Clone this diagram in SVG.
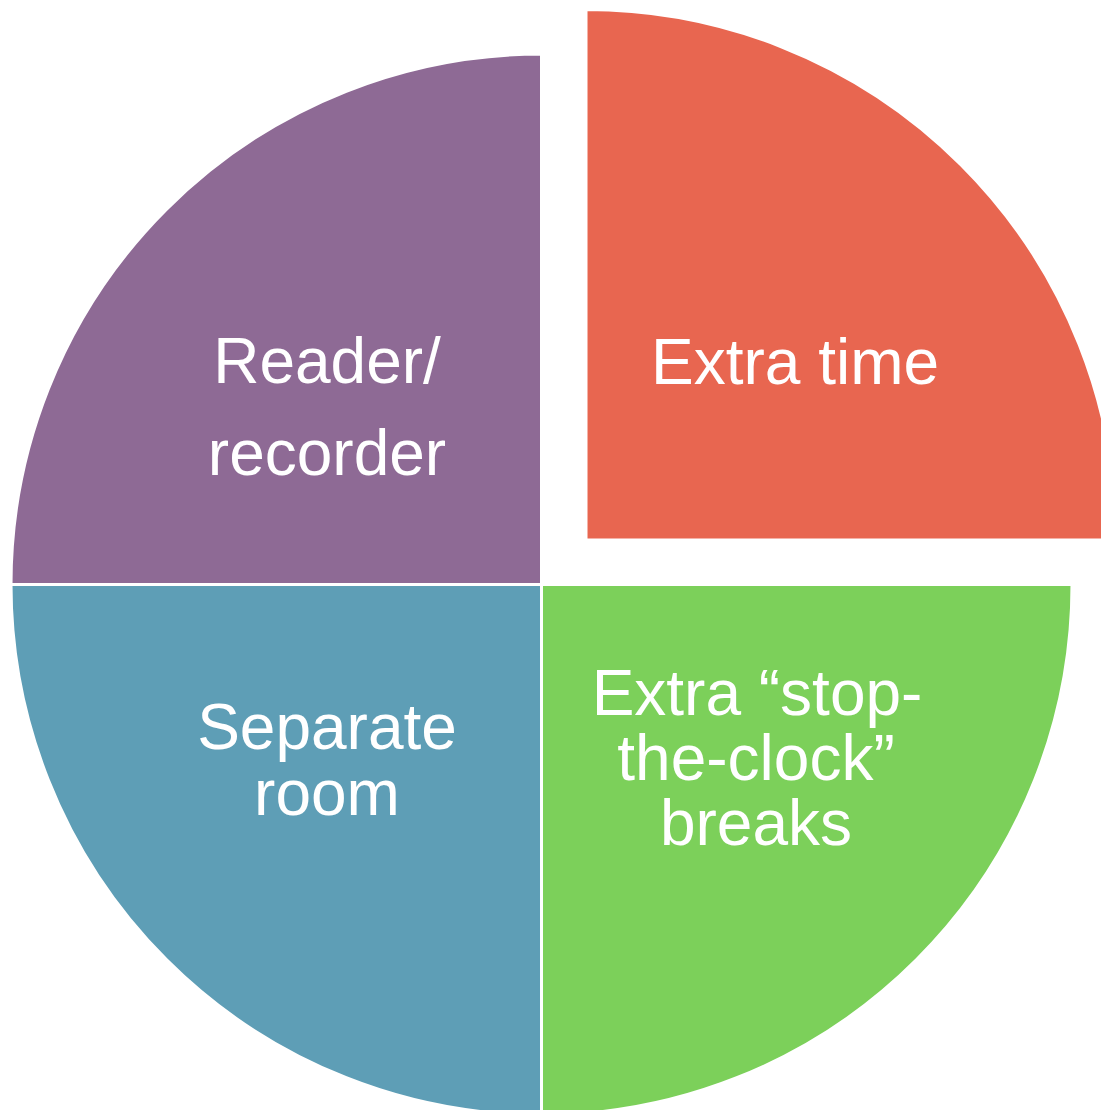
<svg xmlns="http://www.w3.org/2000/svg" width="1101" height="1110" viewBox="0 0 1101 1110">
<style>
.seg{stroke:#FFFFFF;stroke-width:3;stroke-linejoin:miter}
.lbl{font-family:"Liberation Sans",Arial,sans-serif;font-size:64px;fill:#FFFFFF;text-anchor:middle}
</style>
<rect width="1101" height="1110" fill="#FFFFFF"/>
<g id="reader-recorder">
<path class="seg" fill="#8E6A95" d="M541.5,584.5 L541.5,54 A530.5,530.5 0 0 0 11,584.5 Z"/>
<text class="lbl" x="327" y="383">Reader/</text>
<text class="lbl" x="327" y="475">recorder</text>
</g>
<g id="extra-time">
<path class="seg" fill="#E86650" d="M586,540 L1116.5,540 A530.5,530.5 0 0 0 586,9.5 Z"/>
<text class="lbl" x="795" y="384">Extra time</text>
</g>
<g id="separate-room">
<path class="seg" fill="#5E9EB6" d="M541.5,584.5 L11,584.5 A530.5,530.5 0 0 0 541.5,1115 Z"/>
<text class="lbl" x="327" y="749">Separate</text>
<text class="lbl" x="327" y="815">room</text>
</g>
<g id="stop-the-clock">
<path class="seg" fill="#7CD05A" d="M541.5,584.5 L541.5,1115 A530.5,530.5 0 0 0 1072,584.5 Z"/>
<text class="lbl" x="757" y="715">Extra “stop-</text>
<text class="lbl" x="756" y="780">the-clock”</text>
<text class="lbl" x="756" y="845">breaks</text>
</g>
<g id="connectors"></g>
</svg>
